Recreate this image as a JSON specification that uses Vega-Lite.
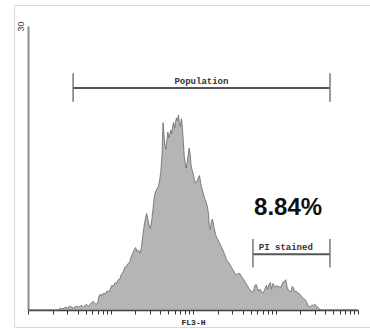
{
  "$schema": "https://vega.github.io/schema/vega-lite/v6.json",
  "width": 356,
  "height": 322,
  "autosize": {"type": "none"},
  "padding": {"left": 14, "top": 5, "right": 0, "bottom": 2},
  "background": "white",
  "config": {
    "view": {"stroke": "#d9d9d9", "strokeWidth": 1},
    "axis": {"grid": false}
  },
  "datasets": {
    "hist": [
      {"ch": 0, "count": 0}, {"ch": 60, "count": 0}, {"ch": 95, "count": 0}, {"ch": 100, "count": 0.2}, {"ch": 108, "count": 0.1},
      {"ch": 115, "count": 0.3}, {"ch": 122, "count": 0.2}, {"ch": 130, "count": 0.4}, {"ch": 140, "count": 0.2}, {"ch": 150, "count": 0.4},
      {"ch": 158, "count": 0.3}, {"ch": 165, "count": 0.5}, {"ch": 172, "count": 0.3}, {"ch": 180, "count": 0.6}, {"ch": 188, "count": 0.4},
      {"ch": 195, "count": 0.7}, {"ch": 203, "count": 0.9}, {"ch": 210, "count": 0.6}, {"ch": 216, "count": 0.7}, {"ch": 220, "count": 1.4},
      {"ch": 225, "count": 1.7}, {"ch": 230, "count": 1.5}, {"ch": 235, "count": 1.8}, {"ch": 240, "count": 1.7}, {"ch": 245, "count": 2.0},
      {"ch": 250, "count": 1.9}, {"ch": 255, "count": 2.2}, {"ch": 260, "count": 2.6}, {"ch": 265, "count": 2.5}, {"ch": 270, "count": 2.9},
      {"ch": 275, "count": 2.8}, {"ch": 280, "count": 3.2}, {"ch": 285, "count": 3.3}, {"ch": 290, "count": 3.8}, {"ch": 295, "count": 4.0},
      {"ch": 300, "count": 4.5}, {"ch": 305, "count": 4.6}, {"ch": 310, "count": 4.9}, {"ch": 315, "count": 5.0}, {"ch": 320, "count": 5.6},
      {"ch": 325, "count": 6.0}, {"ch": 330, "count": 6.4}, {"ch": 334, "count": 6.6}, {"ch": 338, "count": 6.2}, {"ch": 343, "count": 6.3},
      {"ch": 348, "count": 6.0}, {"ch": 352, "count": 6.6}, {"ch": 356, "count": 7.8}, {"ch": 360, "count": 8.8}, {"ch": 364, "count": 9.6},
      {"ch": 368, "count": 10.2}, {"ch": 372, "count": 9.6}, {"ch": 376, "count": 8.9}, {"ch": 380, "count": 8.6}, {"ch": 384, "count": 9.5},
      {"ch": 388, "count": 10.7}, {"ch": 392, "count": 12.0}, {"ch": 396, "count": 12.5}, {"ch": 400, "count": 12.8}, {"ch": 404, "count": 13.0},
      {"ch": 408, "count": 13.6}, {"ch": 412, "count": 14.6}, {"ch": 416, "count": 16.5}, {"ch": 419, "count": 19.8}, {"ch": 422, "count": 18.5},
      {"ch": 425, "count": 17.4}, {"ch": 428, "count": 17.0}, {"ch": 431, "count": 17.9}, {"ch": 434, "count": 18.8}, {"ch": 437, "count": 18.2},
      {"ch": 440, "count": 18.5}, {"ch": 443, "count": 19.0}, {"ch": 446, "count": 18.6}, {"ch": 449, "count": 19.5}, {"ch": 452, "count": 19.8},
      {"ch": 455, "count": 19.2}, {"ch": 458, "count": 19.9}, {"ch": 461, "count": 20.3}, {"ch": 464, "count": 20.0}, {"ch": 467, "count": 20.6},
      {"ch": 470, "count": 19.6}, {"ch": 473, "count": 19.4}, {"ch": 476, "count": 20.2}, {"ch": 479, "count": 19.3}, {"ch": 482, "count": 17.8},
      {"ch": 485, "count": 16.2}, {"ch": 488, "count": 15.5}, {"ch": 491, "count": 15.0}, {"ch": 494, "count": 15.6}, {"ch": 497, "count": 16.4},
      {"ch": 500, "count": 17.1}, {"ch": 503, "count": 16.5}, {"ch": 506, "count": 15.3}, {"ch": 509, "count": 14.8}, {"ch": 512, "count": 14.5},
      {"ch": 516, "count": 13.8}, {"ch": 520, "count": 13.4}, {"ch": 524, "count": 13.6}, {"ch": 528, "count": 13.9}, {"ch": 532, "count": 14.2},
      {"ch": 536, "count": 13.4}, {"ch": 540, "count": 12.8}, {"ch": 544, "count": 12.3}, {"ch": 548, "count": 11.8}, {"ch": 552, "count": 11.5},
      {"ch": 556, "count": 11.0}, {"ch": 560, "count": 10.2}, {"ch": 563, "count": 8.8}, {"ch": 566, "count": 8.5}, {"ch": 569, "count": 9.3},
      {"ch": 572, "count": 9.6}, {"ch": 575, "count": 9.2}, {"ch": 578, "count": 8.6}, {"ch": 582, "count": 8.0}, {"ch": 586, "count": 7.6},
      {"ch": 590, "count": 7.4}, {"ch": 595, "count": 7.0}, {"ch": 600, "count": 6.7}, {"ch": 605, "count": 6.3}, {"ch": 610, "count": 5.9},
      {"ch": 615, "count": 5.4}, {"ch": 620, "count": 5.1}, {"ch": 625, "count": 4.9}, {"ch": 630, "count": 4.6}, {"ch": 635, "count": 4.3},
      {"ch": 640, "count": 4.0}, {"ch": 645, "count": 3.7}, {"ch": 650, "count": 3.8}, {"ch": 655, "count": 3.9}, {"ch": 660, "count": 3.7},
      {"ch": 665, "count": 3.4}, {"ch": 670, "count": 3.2}, {"ch": 675, "count": 2.9}, {"ch": 680, "count": 2.6}, {"ch": 685, "count": 2.3},
      {"ch": 690, "count": 2.1}, {"ch": 695, "count": 1.9}, {"ch": 700, "count": 2.0}, {"ch": 704, "count": 2.6}, {"ch": 708, "count": 2.7},
      {"ch": 712, "count": 2.3}, {"ch": 716, "count": 2.0}, {"ch": 720, "count": 2.2}, {"ch": 725, "count": 1.9}, {"ch": 730, "count": 1.8},
      {"ch": 735, "count": 2.2}, {"ch": 740, "count": 2.6}, {"ch": 744, "count": 2.2}, {"ch": 748, "count": 2.7}, {"ch": 752, "count": 2.9},
      {"ch": 756, "count": 2.2}, {"ch": 760, "count": 2.8}, {"ch": 764, "count": 2.6}, {"ch": 768, "count": 2.4}, {"ch": 772, "count": 2.6},
      {"ch": 776, "count": 2.4}, {"ch": 780, "count": 2.5}, {"ch": 785, "count": 2.4}, {"ch": 790, "count": 2.9}, {"ch": 795, "count": 3.0},
      {"ch": 800, "count": 3.2}, {"ch": 804, "count": 2.4}, {"ch": 808, "count": 2.1}, {"ch": 812, "count": 2.0}, {"ch": 816, "count": 1.9},
      {"ch": 820, "count": 2.5}, {"ch": 824, "count": 2.3}, {"ch": 828, "count": 1.9}, {"ch": 832, "count": 2.0}, {"ch": 836, "count": 1.8},
      {"ch": 840, "count": 1.8}, {"ch": 845, "count": 1.6}, {"ch": 850, "count": 1.4}, {"ch": 855, "count": 1.2}, {"ch": 860, "count": 1.1},
      {"ch": 865, "count": 0.8}, {"ch": 870, "count": 0.4}, {"ch": 875, "count": 0.3}, {"ch": 880, "count": 0.5}, {"ch": 885, "count": 0.5},
      {"ch": 890, "count": 0.6}, {"ch": 896, "count": 0.4}, {"ch": 902, "count": 0.2}, {"ch": 908, "count": 0}, {"ch": 1024, "count": 0}
    ],
    "gates": [
      {"gate": "Population", "start": 140, "end": 937, "mid": 538, "level": 23.45, "low": 22.0, "high": 25.0},
      {"gate": "PI stained", "start": 698, "end": 937, "mid": 800, "level": 5.9, "low": 4.5, "high": 7.5}
    ],
    "pct": [
      {"label": "8.84%", "ch": 807, "count": 10.0}
    ]
  },
  "layer": [
    {
      "data": {"name": "hist"},
      "mark": {"type": "area", "interpolate": "linear", "fill": "#b5b5b5", "stroke": "#666666", "strokeWidth": 0.8},
      "encoding": {
        "x": {
          "field": "ch", "type": "quantitative",
          "scale": {"domain": [0, 1024], "range": [14, 344], "nice": false, "zero": false},
          "axis": {
            "title": "FL3-H", "titleFont": "Liberation Mono", "titleFontSize": 8, "titleFontWeight": "bold", "titleColor": "#222",
            "titlePadding": 4,
            "offset": -17, "labels": false, "tickSize": 4, "tickColor": "#333", "tickWidth": 1, "tickCount": 200,
            "domainColor": "#333", "domainWidth": 1.5,
            "values": [0, 77.06, 122.14, 154.13, 178.94, 199.21, 216.35, 231.19, 244.29,
                       256, 333.06, 378.14, 410.13, 434.94, 455.21, 472.35, 487.19, 500.29,
                       512, 589.06, 634.14, 666.13, 690.94, 711.21, 728.35, 743.19, 756.29,
                       768, 845.06, 890.14, 922.13, 946.94, 967.21, 984.35, 999.19, 1012.29, 1024]
          }
        },
        "y": {
          "field": "count", "type": "quantitative",
          "scale": {"domain": [0, 30], "range": [305, 21], "nice": false},
          "axis": {
            "title": null, "values": [30], "tickSize": 0, "labelAngle": -90, "labelFontSize": 9,
            "labelFont": "Liberation Sans", "labelColor": "#444", "labelPadding": 3,
            "offset": -14, "domainColor": "#8c8c8c", "domainWidth": 2
          }
        }
      }
    },
    {
      "data": {"name": "gates"},
      "mark": {"type": "rule", "color": "#555555", "strokeWidth": 2},
      "encoding": {
        "x": {"field": "start", "type": "quantitative"},
        "x2": {"field": "end"},
        "y": {"field": "level", "type": "quantitative"}
      }
    },
    {
      "data": {"name": "gates"},
      "mark": {"type": "rule", "color": "#777777", "strokeWidth": 1.5},
      "encoding": {
        "x": {"field": "start", "type": "quantitative"},
        "y": {"field": "low", "type": "quantitative"},
        "y2": {"field": "high"}
      }
    },
    {
      "data": {"name": "gates"},
      "mark": {"type": "rule", "color": "#777777", "strokeWidth": 1.5},
      "encoding": {
        "x": {"field": "end", "type": "quantitative"},
        "y": {"field": "low", "type": "quantitative"},
        "y2": {"field": "high"}
      }
    },
    {
      "data": {"name": "gates"},
      "mark": {"type": "text", "font": "Liberation Mono", "fontSize": 9, "fontWeight": "bold", "color": "#333", "baseline": "alphabetic", "dy": -4},
      "encoding": {
        "x": {"field": "mid", "type": "quantitative"},
        "y": {"field": "level", "type": "quantitative"},
        "text": {"field": "gate"}
      }
    },
    {
      "data": {"name": "pct"},
      "mark": {"type": "text", "font": "Liberation Sans", "fontSize": 24, "fontWeight": "bold", "color": "#111", "baseline": "alphabetic"},
      "encoding": {
        "x": {"field": "ch", "type": "quantitative"},
        "y": {"field": "count", "type": "quantitative"},
        "text": {"field": "label"}
      }
    }
  ]
}
